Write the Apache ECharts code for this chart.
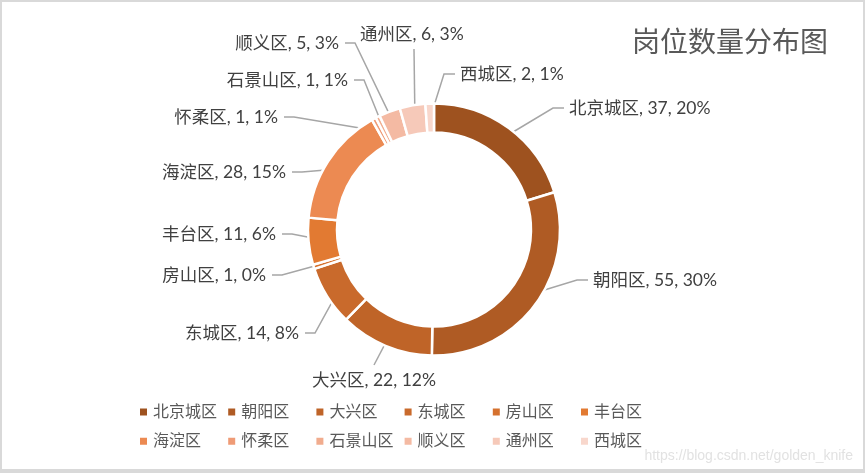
<!DOCTYPE html>
<html>
<head>
<meta charset="utf-8">
<script src="https://cdn.jsdelivr.net/npm/echarts@6/dist/echarts.min.js"></script>
<style>
html,body{margin:0;padding:0;background:#fff;}
#wrap{width:865px;height:473px;box-sizing:border-box;border:2px solid #d9d9d9;border-bottom-width:4px;}
#main{width:100%;height:100%;}
</style>
</head>
<body>
<div id="wrap"><div id="main"></div></div>
<script>
// ---- data ----
var districts = ['北京城区','朝阳区','大兴区','东城区','房山区','丰台区','海淀区','怀柔区','石景山区','顺义区','通州区','西城区'];
var jobCounts = [37, 55, 22, 14, 1, 11, 28, 1, 1, 5, 6, 2];
var percentLabels = ['20','30','12','8','0','6','15','1','1','3','3','1'];
var titleText = '岗位数量分布图';

// ---- styles / layout ----
var colors = ['#9E521F','#AF5B24','#BF6428','#C96A2C','#D5712E','#E27A32','#EC8A52','#EF9B76','#F1AC8E','#F4BAA3','#F6C9B9','#F8D7CC'];
var CX = 432, CY = 227.5, R0 = 97, R = 126;
// label placement: x,y of text anchor, side
var labelPlace = [
  {x:567, y:106, side:'left'},
  {x:591, y:278, side:'left'},
  {x:310, y:378, side:'below', endDx:62},
  {x:297, y:331, side:'right'},
  {x:264, y:273, side:'right'},
  {x:274, y:232, side:'right'},
  {x:284, y:170, side:'right'},
  {x:276, y:115, side:'right'},
  {x:346, y:78, side:'right'},
  {x:337, y:41, side:'right'},
  {x:358, y:32, side:'above', endDx:54},
  {x:458, y:72, side:'left'}
];

var seriesData = districts.map(function(n, i){
  return {name:n, value:jobCounts[i], itemStyle:{color:colors[i]}};
});

var chart = echarts.init(document.getElementById('main'));
var FONT = 'Lato, "Noto Sans CJK SC", sans-serif';
chart.setOption({
  animation:false,
  color: colors,
  title:{
    text:titleText, right:30, top:20,
    textStyle:{fontSize:28, fontWeight:'normal', color:'#595959', fontFamily:'"Noto Sans CJK SC", sans-serif'}
  },
  graphic:[{
    type:'text', right:10, bottom:6,
    style:{text:'https://blog.csdn.net/golden_knife', fill:'#e2e2e2', font:'14px Arial, sans-serif'}
  }],
  legend:{
    left:136, top:400, width:540, padding:0,
    itemWidth:9, itemHeight:9, itemGap:9.2,
    icon:'rect',
    data: districts,
    textStyle:{fontSize:16, color:'#595959', width:64, overflow:'none', lineHeight:20, fontFamily:FONT}
  },
  series:[{
    type:'pie',
    center:[CX, CY],
    radius:[R0, R],
    startAngle:90,
    clockwise:true,
    avoidLabelOverlap:false,
    data: seriesData,
    itemStyle:{borderColor:'#fff', borderWidth:2.5},
    label:{
      show:true, position:'outside',
      fontSize:17.5, color:'#404040', fontFamily:FONT,
      formatter:function(p){ return p.name + ', ' + p.value + ', ' + percentLabels[p.dataIndex] + '%'; }
    },
    labelLine:{show:true, length:10, length2:10, lineStyle:{color:'#a6a6a6', width:1.5}},
    emphasis:{disabled:true},
    labelLayout:function(params){
      var i = params.dataIndex;
      var lp = labelPlace[i];
      var p0 = params.labelLinePoints ? params.labelLinePoints[0] : [CX, CY - R];
      var dx = p0[0] - CX, dy = p0[1] - CY;
      var len = Math.sqrt(dx*dx + dy*dy) || 1;
      var rm = (R0 + R) / 2;
      var start = [CX + dx/len*rm, CY + dy/len*rm];
      var pts, align;
      if (lp.side === 'left') {
        align = 'left';
        pts = [start, [lp.x - 16, lp.y], [lp.x - 5, lp.y]];
      } else if (lp.side === 'right') {
        align = 'right';
        pts = [start, [lp.x + 16, lp.y], [lp.x + 6, lp.y]];
      } else if (lp.side === 'above') {
        align = 'left';
        pts = [start, [lp.x + lp.endDx, lp.y + 15]];
      } else {
        align = 'left';
        pts = [start, [lp.x + lp.endDx, lp.y - 15]];
      }
      return {x:lp.x, y:lp.y, align:align, verticalAlign:'middle', labelLinePoints:pts};
    }
  }]
});
</script>
</body>
</html>
